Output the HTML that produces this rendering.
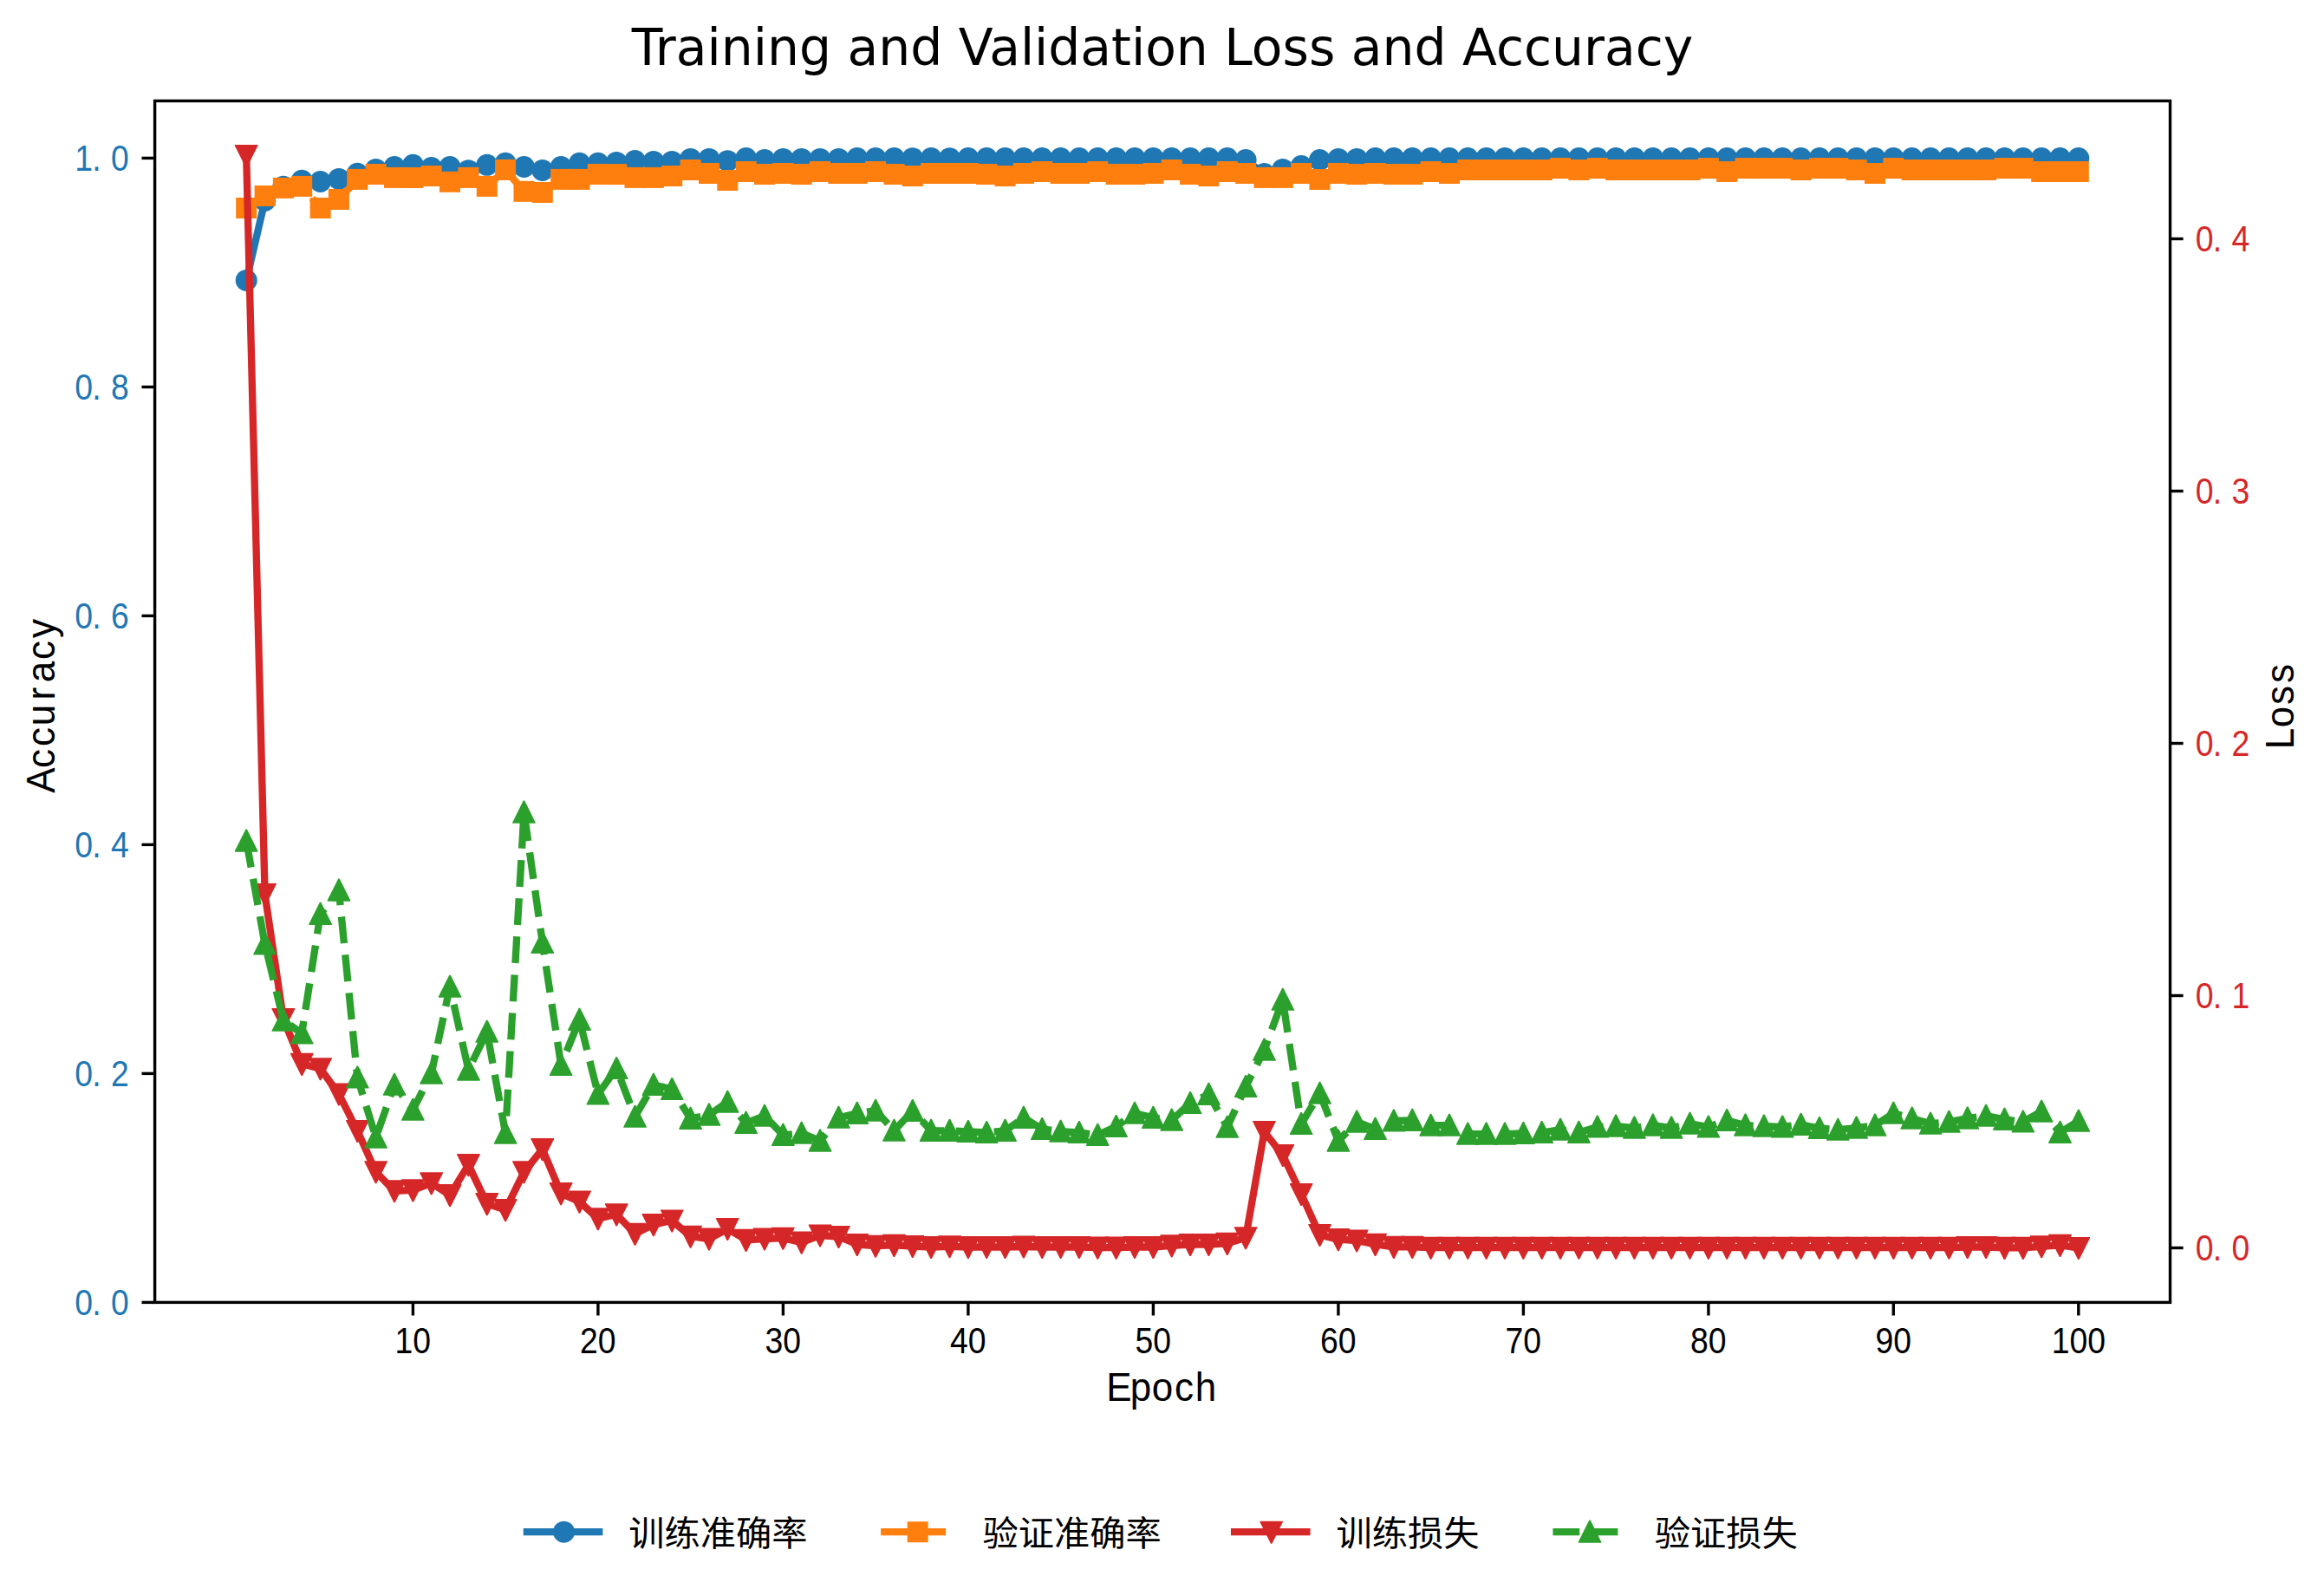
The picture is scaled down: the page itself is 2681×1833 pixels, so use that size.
<!DOCTYPE html>
<html lang="zh"><head><meta charset="utf-8"><title>Training and Validation Loss and Accuracy</title>
<style>html,body{margin:0;padding:0;background:#fff}body{width:2681px;height:1833px;overflow:hidden}svg{display:block}.t{font-family:"DejaVu Sans","Liberation Sans",sans-serif}.n{font-family:"Liberation Sans","Noto Sans CJK SC",sans-serif}.c{font-family:"Liberation Sans","Noto Sans CJK SC","WenQuanYi Zen Hei",sans-serif}</style></head><body>
<svg width="2681" height="1833" viewBox="0 0 2681 1833">
<rect width="2681" height="1833" fill="#fff"/>
<text class="t" x="1341.1" y="74.7" font-size="58.33" text-anchor="middle" fill="#000">Training and Validation Loss and Accuracy</text>
<g fill="none" stroke-width="8.33" stroke-linejoin="round">
<polyline points="284.2,323.4 305.6,231.5 326.9,215.2 348.2,208.3 369.6,209.5 390.9,206.4 412.3,200.3 433.6,195.4 455,192.5 476.4,190.3 497.7,193.5 519,192.5 540.4,196.7 561.8,190.3 583.1,188.3 604.5,192.5 625.8,196.5 647.2,192.5 668.5,188.3 689.9,188.3 711.2,187.4 732.5,185.5 753.9,186.4 775.2,186.4 796.6,183.4 818,183.4 839.3,185.7 860.7,182.5 882,184.5 903.4,183.4 924.7,183.4 946,183.4 967.4,183.4 988.8,182.5 1010.1,182.5 1031.5,182.5 1052.8,182.7 1074.2,182.5 1095.5,182.7 1116.9,182.5 1138.2,182.5 1159.5,182.5 1180.9,182.5 1202.2,182.5 1223.6,182.5 1245,182.5 1266.3,182.5 1287.7,182.5 1309,182.5 1330.4,182.5 1351.7,182.5 1373.1,182.5 1394.4,182.5 1415.8,182.5 1437.1,184.5 1458.5,200.6 1479.8,195.4 1501.2,191.6 1522.5,184.5 1543.9,183.4 1565.2,183.4 1586.6,182.5 1607.9,182.5 1629.3,182.5 1650.6,182.5 1672,182.5 1693.3,182.5 1714.7,182.5 1736,182.5 1757.4,182.5 1778.7,182.5 1800.1,182.5 1821.4,182.5 1842.8,182.5 1864.1,182.5 1885.5,182.5 1906.8,182.5 1928.2,182.5 1949.5,182.5 1970.9,182.5 1992.2,182.5 2013.6,182.5 2034.9,182.5 2056.2,182.5 2077.6,182.5 2099,182.5 2120.3,182.5 2141.7,182.5 2163,182.5 2184.3,182.5 2205.7,182.5 2227.1,182.5 2248.4,182.5 2269.8,182.5 2291.1,182.5 2312.5,182.5 2333.8,182.5 2355.2,182.5 2376.5,182.5 2397.8,182.5" stroke="#1f77b4" stroke-linecap="square"/>
</g>
<g fill="#1f77b4">
<circle cx="284.2" cy="323.4" r="12.5"/>
<circle cx="305.6" cy="231.5" r="12.5"/>
<circle cx="326.9" cy="215.2" r="12.5"/>
<circle cx="348.2" cy="208.3" r="12.5"/>
<circle cx="369.6" cy="209.5" r="12.5"/>
<circle cx="390.9" cy="206.4" r="12.5"/>
<circle cx="412.3" cy="200.3" r="12.5"/>
<circle cx="433.6" cy="195.4" r="12.5"/>
<circle cx="455" cy="192.5" r="12.5"/>
<circle cx="476.4" cy="190.3" r="12.5"/>
<circle cx="497.7" cy="193.5" r="12.5"/>
<circle cx="519" cy="192.5" r="12.5"/>
<circle cx="540.4" cy="196.7" r="12.5"/>
<circle cx="561.8" cy="190.3" r="12.5"/>
<circle cx="583.1" cy="188.3" r="12.5"/>
<circle cx="604.5" cy="192.5" r="12.5"/>
<circle cx="625.8" cy="196.5" r="12.5"/>
<circle cx="647.2" cy="192.5" r="12.5"/>
<circle cx="668.5" cy="188.3" r="12.5"/>
<circle cx="689.9" cy="188.3" r="12.5"/>
<circle cx="711.2" cy="187.4" r="12.5"/>
<circle cx="732.5" cy="185.5" r="12.5"/>
<circle cx="753.9" cy="186.4" r="12.5"/>
<circle cx="775.2" cy="186.4" r="12.5"/>
<circle cx="796.6" cy="183.4" r="12.5"/>
<circle cx="818" cy="183.4" r="12.5"/>
<circle cx="839.3" cy="185.7" r="12.5"/>
<circle cx="860.7" cy="182.5" r="12.5"/>
<circle cx="882" cy="184.5" r="12.5"/>
<circle cx="903.4" cy="183.4" r="12.5"/>
<circle cx="924.7" cy="183.4" r="12.5"/>
<circle cx="946" cy="183.4" r="12.5"/>
<circle cx="967.4" cy="183.4" r="12.5"/>
<circle cx="988.8" cy="182.5" r="12.5"/>
<circle cx="1010.1" cy="182.5" r="12.5"/>
<circle cx="1031.5" cy="182.5" r="12.5"/>
<circle cx="1052.8" cy="182.7" r="12.5"/>
<circle cx="1074.2" cy="182.5" r="12.5"/>
<circle cx="1095.5" cy="182.7" r="12.5"/>
<circle cx="1116.9" cy="182.5" r="12.5"/>
<circle cx="1138.2" cy="182.5" r="12.5"/>
<circle cx="1159.5" cy="182.5" r="12.5"/>
<circle cx="1180.9" cy="182.5" r="12.5"/>
<circle cx="1202.2" cy="182.5" r="12.5"/>
<circle cx="1223.6" cy="182.5" r="12.5"/>
<circle cx="1245" cy="182.5" r="12.5"/>
<circle cx="1266.3" cy="182.5" r="12.5"/>
<circle cx="1287.7" cy="182.5" r="12.5"/>
<circle cx="1309" cy="182.5" r="12.5"/>
<circle cx="1330.4" cy="182.5" r="12.5"/>
<circle cx="1351.7" cy="182.5" r="12.5"/>
<circle cx="1373.1" cy="182.5" r="12.5"/>
<circle cx="1394.4" cy="182.5" r="12.5"/>
<circle cx="1415.8" cy="182.5" r="12.5"/>
<circle cx="1437.1" cy="184.5" r="12.5"/>
<circle cx="1458.5" cy="200.6" r="12.5"/>
<circle cx="1479.8" cy="195.4" r="12.5"/>
<circle cx="1501.2" cy="191.6" r="12.5"/>
<circle cx="1522.5" cy="184.5" r="12.5"/>
<circle cx="1543.9" cy="183.4" r="12.5"/>
<circle cx="1565.2" cy="183.4" r="12.5"/>
<circle cx="1586.6" cy="182.5" r="12.5"/>
<circle cx="1607.9" cy="182.5" r="12.5"/>
<circle cx="1629.3" cy="182.5" r="12.5"/>
<circle cx="1650.6" cy="182.5" r="12.5"/>
<circle cx="1672" cy="182.5" r="12.5"/>
<circle cx="1693.3" cy="182.5" r="12.5"/>
<circle cx="1714.7" cy="182.5" r="12.5"/>
<circle cx="1736" cy="182.5" r="12.5"/>
<circle cx="1757.4" cy="182.5" r="12.5"/>
<circle cx="1778.7" cy="182.5" r="12.5"/>
<circle cx="1800.1" cy="182.5" r="12.5"/>
<circle cx="1821.4" cy="182.5" r="12.5"/>
<circle cx="1842.8" cy="182.5" r="12.5"/>
<circle cx="1864.1" cy="182.5" r="12.5"/>
<circle cx="1885.5" cy="182.5" r="12.5"/>
<circle cx="1906.8" cy="182.5" r="12.5"/>
<circle cx="1928.2" cy="182.5" r="12.5"/>
<circle cx="1949.5" cy="182.5" r="12.5"/>
<circle cx="1970.9" cy="182.5" r="12.5"/>
<circle cx="1992.2" cy="182.5" r="12.5"/>
<circle cx="2013.6" cy="182.5" r="12.5"/>
<circle cx="2034.9" cy="182.5" r="12.5"/>
<circle cx="2056.2" cy="182.5" r="12.5"/>
<circle cx="2077.6" cy="182.5" r="12.5"/>
<circle cx="2099" cy="182.5" r="12.5"/>
<circle cx="2120.3" cy="182.5" r="12.5"/>
<circle cx="2141.7" cy="182.5" r="12.5"/>
<circle cx="2163" cy="182.5" r="12.5"/>
<circle cx="2184.3" cy="182.5" r="12.5"/>
<circle cx="2205.7" cy="182.5" r="12.5"/>
<circle cx="2227.1" cy="182.5" r="12.5"/>
<circle cx="2248.4" cy="182.5" r="12.5"/>
<circle cx="2269.8" cy="182.5" r="12.5"/>
<circle cx="2291.1" cy="182.5" r="12.5"/>
<circle cx="2312.5" cy="182.5" r="12.5"/>
<circle cx="2333.8" cy="182.5" r="12.5"/>
<circle cx="2355.2" cy="182.5" r="12.5"/>
<circle cx="2376.5" cy="182.5" r="12.5"/>
<circle cx="2397.8" cy="182.5" r="12.5"/>
</g>
<polyline points="284.2,240 305.6,226 326.9,216.9 348.2,214.9 369.6,240 390.9,230 412.3,206.9 433.6,201 455,204.9 476.4,205 497.7,203 519,209.8 540.4,204.9 561.8,214.9 583.1,195.9 604.5,220.8 625.8,222 647.2,206.9 668.5,206.9 689.9,201 711.2,201.1 732.5,204.9 753.9,204.9 775.2,203 796.6,196 818,200 839.3,208 860.7,198 882,201 903.4,200 924.7,201 946,198 967.4,200 988.8,200 1010.1,198 1031.5,201 1052.8,203 1074.2,200 1095.5,200 1116.9,200 1138.2,201 1159.5,203 1180.9,200 1202.2,198 1223.6,200 1245,200 1266.3,198 1287.7,201 1309,201 1330.4,200 1351.7,196 1373.1,201 1394.4,203 1415.8,198 1437.1,200 1458.5,204.9 1479.8,204.9 1501.2,200 1522.5,207 1543.9,200 1565.2,201 1586.6,200 1607.9,201 1629.3,201 1650.6,198 1672,200 1693.3,196 1714.7,196 1736,196 1757.4,196 1778.7,196 1800.1,194.1 1821.4,196 1842.8,194.1 1864.1,196 1885.5,196 1906.8,196 1928.2,196 1949.5,196 1970.9,194.1 1992.2,198 2013.6,194.1 2034.9,194.1 2056.2,194.1 2077.6,196 2099,194.1 2120.3,194.1 2141.7,196 2163,200 2184.3,194.1 2205.7,196 2227.1,196 2248.4,196 2269.8,196 2291.1,196 2312.5,194.1 2333.8,194.1 2355.2,198 2376.5,198 2397.8,198" fill="none" stroke="#ff7f0e" stroke-width="8.33" stroke-linejoin="round" stroke-dasharray="30.83 13.33"/>
<g fill="#ff7f0e">
<rect x="272.2" y="228" width="24" height="24"/>
<rect x="293.6" y="214" width="24" height="24"/>
<rect x="314.9" y="204.9" width="24" height="24"/>
<rect x="336.2" y="202.9" width="24" height="24"/>
<rect x="357.6" y="228" width="24" height="24"/>
<rect x="378.9" y="218" width="24" height="24"/>
<rect x="400.3" y="194.9" width="24" height="24"/>
<rect x="421.6" y="189" width="24" height="24"/>
<rect x="443" y="192.9" width="24" height="24"/>
<rect x="464.4" y="193" width="24" height="24"/>
<rect x="485.7" y="191" width="24" height="24"/>
<rect x="507" y="197.8" width="24" height="24"/>
<rect x="528.4" y="192.9" width="24" height="24"/>
<rect x="549.8" y="202.9" width="24" height="24"/>
<rect x="571.1" y="183.9" width="24" height="24"/>
<rect x="592.5" y="208.8" width="24" height="24"/>
<rect x="613.8" y="210" width="24" height="24"/>
<rect x="635.2" y="194.9" width="24" height="24"/>
<rect x="656.5" y="194.9" width="24" height="24"/>
<rect x="677.9" y="189" width="24" height="24"/>
<rect x="699.2" y="189.1" width="24" height="24"/>
<rect x="720.5" y="192.9" width="24" height="24"/>
<rect x="741.9" y="192.9" width="24" height="24"/>
<rect x="763.2" y="191" width="24" height="24"/>
<rect x="784.6" y="184" width="24" height="24"/>
<rect x="806" y="188" width="24" height="24"/>
<rect x="827.3" y="196" width="24" height="24"/>
<rect x="848.7" y="186" width="24" height="24"/>
<rect x="870" y="189" width="24" height="24"/>
<rect x="891.4" y="188" width="24" height="24"/>
<rect x="912.7" y="189" width="24" height="24"/>
<rect x="934" y="186" width="24" height="24"/>
<rect x="955.4" y="188" width="24" height="24"/>
<rect x="976.8" y="188" width="24" height="24"/>
<rect x="998.1" y="186" width="24" height="24"/>
<rect x="1019.5" y="189" width="24" height="24"/>
<rect x="1040.8" y="191" width="24" height="24"/>
<rect x="1062.2" y="188" width="24" height="24"/>
<rect x="1083.5" y="188" width="24" height="24"/>
<rect x="1104.9" y="188" width="24" height="24"/>
<rect x="1126.2" y="189" width="24" height="24"/>
<rect x="1147.5" y="191" width="24" height="24"/>
<rect x="1168.9" y="188" width="24" height="24"/>
<rect x="1190.2" y="186" width="24" height="24"/>
<rect x="1211.6" y="188" width="24" height="24"/>
<rect x="1233" y="188" width="24" height="24"/>
<rect x="1254.3" y="186" width="24" height="24"/>
<rect x="1275.7" y="189" width="24" height="24"/>
<rect x="1297" y="189" width="24" height="24"/>
<rect x="1318.4" y="188" width="24" height="24"/>
<rect x="1339.7" y="184" width="24" height="24"/>
<rect x="1361.1" y="189" width="24" height="24"/>
<rect x="1382.4" y="191" width="24" height="24"/>
<rect x="1403.8" y="186" width="24" height="24"/>
<rect x="1425.1" y="188" width="24" height="24"/>
<rect x="1446.5" y="192.9" width="24" height="24"/>
<rect x="1467.8" y="192.9" width="24" height="24"/>
<rect x="1489.2" y="188" width="24" height="24"/>
<rect x="1510.5" y="195" width="24" height="24"/>
<rect x="1531.9" y="188" width="24" height="24"/>
<rect x="1553.2" y="189" width="24" height="24"/>
<rect x="1574.6" y="188" width="24" height="24"/>
<rect x="1595.9" y="189" width="24" height="24"/>
<rect x="1617.3" y="189" width="24" height="24"/>
<rect x="1638.6" y="186" width="24" height="24"/>
<rect x="1660" y="188" width="24" height="24"/>
<rect x="1681.3" y="184" width="24" height="24"/>
<rect x="1702.7" y="184" width="24" height="24"/>
<rect x="1724" y="184" width="24" height="24"/>
<rect x="1745.4" y="184" width="24" height="24"/>
<rect x="1766.7" y="184" width="24" height="24"/>
<rect x="1788.1" y="182.1" width="24" height="24"/>
<rect x="1809.4" y="184" width="24" height="24"/>
<rect x="1830.8" y="182.1" width="24" height="24"/>
<rect x="1852.1" y="184" width="24" height="24"/>
<rect x="1873.5" y="184" width="24" height="24"/>
<rect x="1894.8" y="184" width="24" height="24"/>
<rect x="1916.2" y="184" width="24" height="24"/>
<rect x="1937.5" y="184" width="24" height="24"/>
<rect x="1958.9" y="182.1" width="24" height="24"/>
<rect x="1980.2" y="186" width="24" height="24"/>
<rect x="2001.6" y="182.1" width="24" height="24"/>
<rect x="2022.9" y="182.1" width="24" height="24"/>
<rect x="2044.2" y="182.1" width="24" height="24"/>
<rect x="2065.6" y="184" width="24" height="24"/>
<rect x="2087" y="182.1" width="24" height="24"/>
<rect x="2108.3" y="182.1" width="24" height="24"/>
<rect x="2129.7" y="184" width="24" height="24"/>
<rect x="2151" y="188" width="24" height="24"/>
<rect x="2172.3" y="182.1" width="24" height="24"/>
<rect x="2193.7" y="184" width="24" height="24"/>
<rect x="2215.1" y="184" width="24" height="24"/>
<rect x="2236.4" y="184" width="24" height="24"/>
<rect x="2257.8" y="184" width="24" height="24"/>
<rect x="2279.1" y="184" width="24" height="24"/>
<rect x="2300.5" y="182.1" width="24" height="24"/>
<rect x="2321.8" y="182.1" width="24" height="24"/>
<rect x="2343.2" y="186" width="24" height="24"/>
<rect x="2364.5" y="186" width="24" height="24"/>
<rect x="2385.8" y="186" width="24" height="24"/>
</g>
<polyline points="284.2,179.6 305.6,1031.5 326.9,1175.6 348.2,1227.3 369.6,1232.8 390.9,1262 412.3,1304.5 433.6,1351.8 455,1373.8 476.4,1372.8 497.7,1364.8 519,1378.6 540.4,1343.6 561.8,1388.6 583.1,1395.6 604.5,1351.8 625.8,1325.6 647.2,1376.6 668.5,1386.1 689.9,1405.8 711.2,1400.8 732.5,1423.2 753.9,1412.6 775.2,1408 796.6,1426.2 818,1429 839.3,1417.5 860.7,1430.3 882,1429 903.4,1428.2 924.7,1433.1 946,1425 967.4,1426.5 988.8,1435.5 1010.1,1437.2 1031.5,1436.3 1052.8,1437.5 1074.2,1438.5 1095.5,1437.8 1116.9,1438.5 1138.2,1438.5 1159.5,1438.5 1180.9,1438 1202.2,1438.5 1223.6,1438.5 1245,1438.5 1266.3,1439.1 1287.7,1439.1 1309,1438.5 1330.4,1438.5 1351.7,1436.8 1373.1,1435.5 1394.4,1435.5 1415.8,1434.3 1437.1,1427.8 1458.5,1305.5 1479.8,1332.5 1501.2,1377.5 1522.5,1424.5 1543.9,1429.6 1565.2,1431 1586.6,1435.3 1607.9,1438.3 1629.3,1438.3 1650.6,1439.2 1672,1439.2 1693.3,1439.2 1714.7,1439.2 1736,1439.2 1757.4,1439.2 1778.7,1439.2 1800.1,1439.2 1821.4,1439.2 1842.8,1439.2 1864.1,1439.2 1885.5,1439.2 1906.8,1439.2 1928.2,1439.2 1949.5,1439.2 1970.9,1439.2 1992.2,1439.2 2013.6,1439.2 2034.9,1439.2 2056.2,1439.2 2077.6,1439.2 2099,1439.2 2120.3,1439.2 2141.7,1439.2 2163,1439.2 2184.3,1439.2 2205.7,1439.2 2227.1,1439.2 2248.4,1439.2 2269.8,1438.5 2291.1,1438.5 2312.5,1439.3 2333.8,1439.3 2355.2,1437.8 2376.5,1436.3 2397.8,1439.5" fill="none" stroke="#d62728" stroke-width="8.33" stroke-linejoin="round" stroke-linecap="square"/>
<g fill="#d62728">
<polygon points="270.9,167.1 297.4,167.1 297.4,168.2 284.9,193.2 283.5,193.2 270.9,168.2"/>
<polygon points="292.3,1019 318.8,1019 318.8,1020 306.3,1045 304.8,1045 292.3,1020"/>
<polygon points="313.6,1163.1 340.1,1163.1 340.1,1164.2 327.6,1189.2 326.2,1189.2 313.6,1164.2"/>
<polygon points="335,1214.8 361.5,1214.8 361.5,1215.9 349,1240.9 347.5,1240.9 335,1215.9"/>
<polygon points="356.4,1220.2 382.9,1220.2 382.9,1221.3 370.3,1246.3 368.9,1246.3 356.4,1221.3"/>
<polygon points="377.7,1249.5 404.2,1249.5 404.2,1250.5 391.7,1275.5 390.2,1275.5 377.7,1250.5"/>
<polygon points="399.1,1292 425.6,1292 425.6,1293.1 413,1318.1 411.6,1318.1 399.1,1293.1"/>
<polygon points="420.4,1339.2 446.9,1339.2 446.9,1340.3 434.4,1365.3 432.9,1365.3 420.4,1340.3"/>
<polygon points="441.8,1361.2 468.2,1361.2 468.2,1362.3 455.7,1387.3 454.3,1387.3 441.8,1362.3"/>
<polygon points="463.1,1360.3 489.6,1360.3 489.6,1361.4 477.1,1386.4 475.6,1386.4 463.1,1361.4"/>
<polygon points="484.4,1352.3 510.9,1352.3 510.9,1353.4 498.4,1378.4 497,1378.4 484.4,1353.4"/>
<polygon points="505.8,1366.1 532.3,1366.1 532.3,1367.2 519.8,1392.2 518.3,1392.2 505.8,1367.2"/>
<polygon points="527.2,1331.1 553.7,1331.1 553.7,1332.2 541.1,1357.2 539.7,1357.2 527.2,1332.2"/>
<polygon points="548.5,1376.1 575,1376.1 575,1377.2 562.5,1402.2 561,1402.2 548.5,1377.2"/>
<polygon points="569.9,1383.1 596.4,1383.1 596.4,1384.2 583.8,1409.2 582.4,1409.2 569.9,1384.2"/>
<polygon points="591.2,1339.2 617.7,1339.2 617.7,1340.3 605.2,1365.3 603.7,1365.3 591.2,1340.3"/>
<polygon points="612.5,1313.1 639,1313.1 639,1314.2 626.5,1339.2 625.1,1339.2 612.5,1314.2"/>
<polygon points="633.9,1364.1 660.4,1364.1 660.4,1365.2 647.9,1390.2 646.4,1390.2 633.9,1365.2"/>
<polygon points="655.2,1373.6 681.8,1373.6 681.8,1374.7 669.2,1399.7 667.8,1399.7 655.2,1374.7"/>
<polygon points="676.6,1393.2 703.1,1393.2 703.1,1394.3 690.6,1419.3 689.1,1419.3 676.6,1394.3"/>
<polygon points="698,1388.3 724.5,1388.3 724.5,1389.4 711.9,1414.4 710.5,1414.4 698,1389.4"/>
<polygon points="719.3,1410.8 745.8,1410.8 745.8,1411.8 733.3,1436.8 731.8,1436.8 719.3,1411.8"/>
<polygon points="740.7,1400.1 767.2,1400.1 767.2,1401.2 754.6,1426.2 753.2,1426.2 740.7,1401.2"/>
<polygon points="762,1395.5 788.5,1395.5 788.5,1396.5 776,1421.5 774.5,1421.5 762,1396.5"/>
<polygon points="783.4,1413.8 809.9,1413.8 809.9,1414.8 797.3,1439.8 795.9,1439.8 783.4,1414.8"/>
<polygon points="804.7,1416.5 831.2,1416.5 831.2,1417.6 818.7,1442.6 817.2,1442.6 804.7,1417.6"/>
<polygon points="826,1405 852.5,1405 852.5,1406.1 840,1431.1 838.6,1431.1 826,1406.1"/>
<polygon points="847.4,1417.8 873.9,1417.8 873.9,1418.9 861.4,1443.9 859.9,1443.9 847.4,1418.9"/>
<polygon points="868.8,1416.5 895.2,1416.5 895.2,1417.6 882.7,1442.6 881.3,1442.6 868.8,1417.6"/>
<polygon points="890.1,1415.8 916.6,1415.8 916.6,1416.8 904.1,1441.8 902.6,1441.8 890.1,1416.8"/>
<polygon points="911.5,1420.6 938,1420.6 938,1421.7 925.4,1446.7 924,1446.7 911.5,1421.7"/>
<polygon points="932.8,1412.5 959.3,1412.5 959.3,1413.5 946.8,1438.5 945.3,1438.5 932.8,1413.5"/>
<polygon points="954.2,1414 980.7,1414 980.7,1415.1 968.1,1440.1 966.7,1440.1 954.2,1415.1"/>
<polygon points="975.5,1423 1002,1423 1002,1424.1 989.5,1449.1 988,1449.1 975.5,1424.1"/>
<polygon points="996.9,1424.8 1023.4,1424.8 1023.4,1425.8 1010.8,1450.8 1009.4,1450.8 996.9,1425.8"/>
<polygon points="1018.2,1423.8 1044.7,1423.8 1044.7,1424.9 1032.2,1449.9 1030.7,1449.9 1018.2,1424.9"/>
<polygon points="1039.5,1425 1066,1425 1066,1426.1 1053.5,1451.1 1052.1,1451.1 1039.5,1426.1"/>
<polygon points="1060.9,1426 1087.4,1426 1087.4,1427.1 1074.9,1452.1 1073.4,1452.1 1060.9,1427.1"/>
<polygon points="1082.2,1425.2 1108.8,1425.2 1108.8,1426.3 1096.2,1451.3 1094.8,1451.3 1082.2,1426.3"/>
<polygon points="1103.6,1426 1130.1,1426 1130.1,1427.1 1117.6,1452.1 1116.1,1452.1 1103.6,1427.1"/>
<polygon points="1125,1426 1151.5,1426 1151.5,1427.1 1138.9,1452.1 1137.5,1452.1 1125,1427.1"/>
<polygon points="1146.3,1426 1172.8,1426 1172.8,1427.1 1160.3,1452.1 1158.8,1452.1 1146.3,1427.1"/>
<polygon points="1167.7,1425.5 1194.2,1425.5 1194.2,1426.6 1181.6,1451.6 1180.2,1451.6 1167.7,1426.6"/>
<polygon points="1189,1426 1215.5,1426 1215.5,1427.1 1203,1452.1 1201.5,1452.1 1189,1427.1"/>
<polygon points="1210.4,1426 1236.9,1426 1236.9,1427.1 1224.3,1452.1 1222.9,1452.1 1210.4,1427.1"/>
<polygon points="1231.7,1426 1258.2,1426 1258.2,1427.1 1245.7,1452.1 1244.2,1452.1 1231.7,1427.1"/>
<polygon points="1253,1426.6 1279.5,1426.6 1279.5,1427.7 1267,1452.7 1265.6,1452.7 1253,1427.7"/>
<polygon points="1274.4,1426.6 1300.9,1426.6 1300.9,1427.7 1288.4,1452.7 1286.9,1452.7 1274.4,1427.7"/>
<polygon points="1295.8,1426 1322.3,1426 1322.3,1427.1 1309.7,1452.1 1308.3,1452.1 1295.8,1427.1"/>
<polygon points="1317.1,1426 1343.6,1426 1343.6,1427.1 1331.1,1452.1 1329.6,1452.1 1317.1,1427.1"/>
<polygon points="1338.5,1424.3 1365,1424.3 1365,1425.4 1352.4,1450.4 1351,1450.4 1338.5,1425.4"/>
<polygon points="1359.8,1423 1386.3,1423 1386.3,1424.1 1373.8,1449.1 1372.3,1449.1 1359.8,1424.1"/>
<polygon points="1381.2,1423 1407.7,1423 1407.7,1424.1 1395.1,1449.1 1393.7,1449.1 1381.2,1424.1"/>
<polygon points="1402.5,1421.8 1429,1421.8 1429,1422.9 1416.5,1447.9 1415,1447.9 1402.5,1422.9"/>
<polygon points="1423.9,1415.2 1450.4,1415.2 1450.4,1416.3 1437.8,1441.3 1436.4,1441.3 1423.9,1416.3"/>
<polygon points="1445.2,1293 1471.7,1293 1471.7,1294.1 1459.2,1319.1 1457.7,1319.1 1445.2,1294.1"/>
<polygon points="1466.6,1320 1493.1,1320 1493.1,1321.1 1480.5,1346.1 1479.1,1346.1 1466.6,1321.1"/>
<polygon points="1487.9,1365 1514.4,1365 1514.4,1366 1501.9,1391 1500.4,1391 1487.9,1366"/>
<polygon points="1509.3,1412 1535.8,1412 1535.8,1413 1523.2,1438 1521.8,1438 1509.3,1413"/>
<polygon points="1530.6,1417.1 1557.1,1417.1 1557.1,1418.2 1544.6,1443.2 1543.1,1443.2 1530.6,1418.2"/>
<polygon points="1552,1418.5 1578.5,1418.5 1578.5,1419.5 1565.9,1444.5 1564.5,1444.5 1552,1419.5"/>
<polygon points="1573.3,1422.8 1599.8,1422.8 1599.8,1423.9 1587.3,1448.9 1585.8,1448.9 1573.3,1423.9"/>
<polygon points="1594.7,1425.8 1621.2,1425.8 1621.2,1426.9 1608.6,1451.9 1607.2,1451.9 1594.7,1426.9"/>
<polygon points="1616,1425.8 1642.5,1425.8 1642.5,1426.9 1630,1451.9 1628.5,1451.9 1616,1426.9"/>
<polygon points="1637.4,1426.8 1663.9,1426.8 1663.9,1427.8 1651.3,1452.8 1649.9,1452.8 1637.4,1427.8"/>
<polygon points="1658.7,1426.8 1685.2,1426.8 1685.2,1427.8 1672.7,1452.8 1671.2,1452.8 1658.7,1427.8"/>
<polygon points="1680.1,1426.8 1706.6,1426.8 1706.6,1427.8 1694,1452.8 1692.6,1452.8 1680.1,1427.8"/>
<polygon points="1701.4,1426.8 1727.9,1426.8 1727.9,1427.8 1715.4,1452.8 1713.9,1452.8 1701.4,1427.8"/>
<polygon points="1722.8,1426.8 1749.3,1426.8 1749.3,1427.8 1736.7,1452.8 1735.3,1452.8 1722.8,1427.8"/>
<polygon points="1744.1,1426.8 1770.6,1426.8 1770.6,1427.8 1758.1,1452.8 1756.6,1452.8 1744.1,1427.8"/>
<polygon points="1765.5,1426.8 1792,1426.8 1792,1427.8 1779.4,1452.8 1778,1452.8 1765.5,1427.8"/>
<polygon points="1786.8,1426.8 1813.3,1426.8 1813.3,1427.8 1800.8,1452.8 1799.3,1452.8 1786.8,1427.8"/>
<polygon points="1808.2,1426.8 1834.7,1426.8 1834.7,1427.8 1822.1,1452.8 1820.7,1452.8 1808.2,1427.8"/>
<polygon points="1829.5,1426.8 1856,1426.8 1856,1427.8 1843.5,1452.8 1842,1452.8 1829.5,1427.8"/>
<polygon points="1850.9,1426.8 1877.4,1426.8 1877.4,1427.8 1864.8,1452.8 1863.4,1452.8 1850.9,1427.8"/>
<polygon points="1872.2,1426.8 1898.7,1426.8 1898.7,1427.8 1886.2,1452.8 1884.7,1452.8 1872.2,1427.8"/>
<polygon points="1893.6,1426.8 1920.1,1426.8 1920.1,1427.8 1907.5,1452.8 1906.1,1452.8 1893.6,1427.8"/>
<polygon points="1914.9,1426.8 1941.4,1426.8 1941.4,1427.8 1928.9,1452.8 1927.4,1452.8 1914.9,1427.8"/>
<polygon points="1936.3,1426.8 1962.8,1426.8 1962.8,1427.8 1950.2,1452.8 1948.8,1452.8 1936.3,1427.8"/>
<polygon points="1957.6,1426.8 1984.1,1426.8 1984.1,1427.8 1971.6,1452.8 1970.1,1452.8 1957.6,1427.8"/>
<polygon points="1979,1426.8 2005.5,1426.8 2005.5,1427.8 1992.9,1452.8 1991.5,1452.8 1979,1427.8"/>
<polygon points="2000.3,1426.8 2026.8,1426.8 2026.8,1427.8 2014.3,1452.8 2012.8,1452.8 2000.3,1427.8"/>
<polygon points="2021.7,1426.8 2048.2,1426.8 2048.2,1427.8 2035.6,1452.8 2034.2,1452.8 2021.7,1427.8"/>
<polygon points="2043,1426.8 2069.5,1426.8 2069.5,1427.8 2057,1452.8 2055.5,1452.8 2043,1427.8"/>
<polygon points="2064.3,1426.8 2090.8,1426.8 2090.8,1427.8 2078.3,1452.8 2076.9,1452.8 2064.3,1427.8"/>
<polygon points="2085.7,1426.8 2112.2,1426.8 2112.2,1427.8 2099.7,1452.8 2098.2,1452.8 2085.7,1427.8"/>
<polygon points="2107.1,1426.8 2133.6,1426.8 2133.6,1427.8 2121,1452.8 2119.6,1452.8 2107.1,1427.8"/>
<polygon points="2128.4,1426.8 2154.9,1426.8 2154.9,1427.8 2142.4,1452.8 2140.9,1452.8 2128.4,1427.8"/>
<polygon points="2149.8,1426.8 2176.2,1426.8 2176.2,1427.8 2163.7,1452.8 2162.3,1452.8 2149.8,1427.8"/>
<polygon points="2171.1,1426.8 2197.6,1426.8 2197.6,1427.8 2185.1,1452.8 2183.6,1452.8 2171.1,1427.8"/>
<polygon points="2192.5,1426.8 2219,1426.8 2219,1427.8 2206.4,1452.8 2205,1452.8 2192.5,1427.8"/>
<polygon points="2213.8,1426.8 2240.3,1426.8 2240.3,1427.8 2227.8,1452.8 2226.3,1452.8 2213.8,1427.8"/>
<polygon points="2235.2,1426.8 2261.7,1426.8 2261.7,1427.8 2249.1,1452.8 2247.7,1452.8 2235.2,1427.8"/>
<polygon points="2256.5,1426 2283,1426 2283,1427.1 2270.5,1452.1 2269,1452.1 2256.5,1427.1"/>
<polygon points="2277.8,1426 2304.3,1426 2304.3,1427.1 2291.8,1452.1 2290.4,1452.1 2277.8,1427.1"/>
<polygon points="2299.2,1426.8 2325.7,1426.8 2325.7,1427.9 2313.2,1452.9 2311.7,1452.9 2299.2,1427.9"/>
<polygon points="2320.6,1426.8 2347.1,1426.8 2347.1,1427.9 2334.5,1452.9 2333.1,1452.9 2320.6,1427.9"/>
<polygon points="2341.9,1425.2 2368.4,1425.2 2368.4,1426.3 2355.9,1451.3 2354.4,1451.3 2341.9,1426.3"/>
<polygon points="2363.2,1423.8 2389.8,1423.8 2389.8,1424.9 2377.2,1449.9 2375.8,1449.9 2363.2,1424.9"/>
<polygon points="2384.6,1427 2411.1,1427 2411.1,1428.1 2398.6,1453.1 2397.1,1453.1 2384.6,1428.1"/>
</g>
<polyline points="284.2,970.2 305.6,1089 326.9,1177.2 348.2,1192 369.6,1054.4 390.9,1027.2 412.3,1243 433.6,1312.2 455,1251.2 476.4,1280.2 497.7,1238.2 519,1138.2 540.4,1234.2 561.8,1190.2 583.1,1307.2 604.5,937.2 625.8,1087.4 647.2,1228.5 668.5,1176.4 689.9,1262 711.2,1232.5 732.5,1288.2 753.9,1251.4 775.2,1256.5 796.6,1290.4 818,1286.2 839.3,1271.2 860.7,1295.4 882,1287.2 903.4,1309.4 924.7,1307.2 946,1316.2 967.4,1289.2 988.8,1284.4 1010.1,1281.2 1031.5,1304.2 1052.8,1281.5 1074.2,1304.4 1095.5,1304.4 1116.9,1305.5 1138.2,1306.5 1159.5,1304.4 1180.9,1289.4 1202.2,1302.5 1223.6,1305.2 1245,1306.5 1266.3,1309.4 1287.7,1299.5 1309,1284.2 1330.4,1289.4 1351.7,1292.2 1373.1,1272.5 1394.4,1262.4 1415.8,1300.2 1437.1,1253.5 1458.5,1211.2 1479.8,1153.2 1501.2,1296.5 1522.5,1261.2 1543.9,1316.2 1565.2,1294.2 1586.6,1302.4 1607.9,1293 1629.3,1292.4 1650.6,1298.2 1672,1298.2 1693.3,1308.2 1714.7,1308.2 1736,1308.2 1757.4,1307.5 1778.7,1306.5 1800.1,1303.2 1821.4,1306.4 1842.8,1300 1864.1,1299.2 1885.5,1301.2 1906.8,1298.2 1928.2,1301.2 1949.5,1296.2 1970.9,1300 1992.2,1292.5 2013.6,1298.2 2034.9,1299.2 2056.2,1300 2077.6,1297.4 2099,1301.5 2120.3,1303.2 2141.7,1301.2 2163,1298.2 2184.3,1284.2 2205.7,1290.2 2227.1,1296.2 2248.4,1294.2 2269.8,1290.2 2291.1,1287.2 2312.5,1291.4 2333.8,1294 2355.2,1282.2 2376.5,1306.4 2397.8,1293.2" fill="none" stroke="#2ca02c" stroke-width="8.33" stroke-linejoin="round" stroke-dasharray="30.83 13.33"/>
<g fill="#2ca02c">
<polygon points="270.9,982.7 297.4,982.7 297.4,981.6 284.9,956.6 283.5,956.6 270.9,981.6"/>
<polygon points="292.3,1101.5 318.8,1101.5 318.8,1100.4 306.3,1075.4 304.8,1075.4 292.3,1100.4"/>
<polygon points="313.6,1189.8 340.1,1189.8 340.1,1188.7 327.6,1163.7 326.2,1163.7 313.6,1188.7"/>
<polygon points="335,1204.5 361.5,1204.5 361.5,1203.5 349,1178.5 347.5,1178.5 335,1203.5"/>
<polygon points="356.4,1066.9 382.9,1066.9 382.9,1065.8 370.3,1040.8 368.9,1040.8 356.4,1065.8"/>
<polygon points="377.7,1039.7 404.2,1039.7 404.2,1038.6 391.7,1013.6 390.2,1013.6 377.7,1038.6"/>
<polygon points="399.1,1255.5 425.6,1255.5 425.6,1254.5 413,1229.5 411.6,1229.5 399.1,1254.5"/>
<polygon points="420.4,1324.8 446.9,1324.8 446.9,1323.7 434.4,1298.7 432.9,1298.7 420.4,1323.7"/>
<polygon points="441.8,1263.8 468.2,1263.8 468.2,1262.7 455.7,1237.7 454.3,1237.7 441.8,1262.7"/>
<polygon points="463.1,1292.8 489.6,1292.8 489.6,1291.7 477.1,1266.7 475.6,1266.7 463.1,1291.7"/>
<polygon points="484.4,1250.7 510.9,1250.7 510.9,1249.6 498.4,1224.6 497,1224.6 484.4,1249.6"/>
<polygon points="505.8,1150.8 532.3,1150.8 532.3,1149.7 519.8,1124.7 518.3,1124.7 505.8,1149.7"/>
<polygon points="527.2,1246.7 553.7,1246.7 553.7,1245.6 541.1,1220.6 539.7,1220.6 527.2,1245.6"/>
<polygon points="548.5,1202.8 575,1202.8 575,1201.7 562.5,1176.7 561,1176.7 548.5,1201.7"/>
<polygon points="569.9,1319.8 596.4,1319.8 596.4,1318.7 583.8,1293.7 582.4,1293.7 569.9,1318.7"/>
<polygon points="591.2,949.8 617.7,949.8 617.7,948.7 605.2,923.6 603.7,923.6 591.2,948.7"/>
<polygon points="612.5,1099.9 639,1099.9 639,1098.8 626.5,1073.8 625.1,1073.8 612.5,1098.8"/>
<polygon points="633.9,1241 660.4,1241 660.4,1240 647.9,1215 646.4,1215 633.9,1240"/>
<polygon points="655.2,1188.9 681.8,1188.9 681.8,1187.8 669.2,1162.8 667.8,1162.8 655.2,1187.8"/>
<polygon points="676.6,1274.5 703.1,1274.5 703.1,1273.5 690.6,1248.5 689.1,1248.5 676.6,1273.5"/>
<polygon points="698,1245 724.5,1245 724.5,1243.9 711.9,1218.9 710.5,1218.9 698,1243.9"/>
<polygon points="719.3,1300.8 745.8,1300.8 745.8,1299.7 733.3,1274.7 731.8,1274.7 719.3,1299.7"/>
<polygon points="740.7,1263.9 767.2,1263.9 767.2,1262.8 754.6,1237.8 753.2,1237.8 740.7,1262.8"/>
<polygon points="762,1269 788.5,1269 788.5,1267.9 776,1242.9 774.5,1242.9 762,1267.9"/>
<polygon points="783.4,1302.9 809.9,1302.9 809.9,1301.8 797.3,1276.8 795.9,1276.8 783.4,1301.8"/>
<polygon points="804.7,1298.7 831.2,1298.7 831.2,1297.6 818.7,1272.6 817.2,1272.6 804.7,1297.6"/>
<polygon points="826,1283.8 852.5,1283.8 852.5,1282.7 840,1257.7 838.6,1257.7 826,1282.7"/>
<polygon points="847.4,1307.9 873.9,1307.9 873.9,1306.8 861.4,1281.8 859.9,1281.8 847.4,1306.8"/>
<polygon points="868.8,1299.8 895.2,1299.8 895.2,1298.7 882.7,1273.7 881.3,1273.7 868.8,1298.7"/>
<polygon points="890.1,1321.9 916.6,1321.9 916.6,1320.8 904.1,1295.8 902.6,1295.8 890.1,1320.8"/>
<polygon points="911.5,1319.8 938,1319.8 938,1318.7 925.4,1293.7 924,1293.7 911.5,1318.7"/>
<polygon points="932.8,1328.7 959.3,1328.7 959.3,1327.6 946.8,1302.6 945.3,1302.6 932.8,1327.6"/>
<polygon points="954.2,1301.8 980.7,1301.8 980.7,1300.7 968.1,1275.7 966.7,1275.7 954.2,1300.7"/>
<polygon points="975.5,1296.9 1002,1296.9 1002,1295.8 989.5,1270.8 988,1270.8 975.5,1295.8"/>
<polygon points="996.9,1293.8 1023.4,1293.8 1023.4,1292.7 1010.8,1267.7 1009.4,1267.7 996.9,1292.7"/>
<polygon points="1018.2,1316.8 1044.7,1316.8 1044.7,1315.7 1032.2,1290.7 1030.7,1290.7 1018.2,1315.7"/>
<polygon points="1039.5,1294 1066,1294 1066,1292.9 1053.5,1267.9 1052.1,1267.9 1039.5,1292.9"/>
<polygon points="1060.9,1316.9 1087.4,1316.9 1087.4,1315.8 1074.9,1290.8 1073.4,1290.8 1060.9,1315.8"/>
<polygon points="1082.2,1316.9 1108.8,1316.9 1108.8,1315.8 1096.2,1290.8 1094.8,1290.8 1082.2,1315.8"/>
<polygon points="1103.6,1318 1130.1,1318 1130.1,1317 1117.6,1292 1116.1,1292 1103.6,1317"/>
<polygon points="1125,1319 1151.5,1319 1151.5,1318 1138.9,1293 1137.5,1293 1125,1318"/>
<polygon points="1146.3,1316.9 1172.8,1316.9 1172.8,1315.8 1160.3,1290.8 1158.8,1290.8 1146.3,1315.8"/>
<polygon points="1167.7,1301.9 1194.2,1301.9 1194.2,1300.8 1181.6,1275.8 1180.2,1275.8 1167.7,1300.8"/>
<polygon points="1189,1315 1215.5,1315 1215.5,1313.9 1203,1288.9 1201.5,1288.9 1189,1313.9"/>
<polygon points="1210.4,1317.8 1236.9,1317.8 1236.9,1316.7 1224.3,1291.7 1222.9,1291.7 1210.4,1316.7"/>
<polygon points="1231.7,1319 1258.2,1319 1258.2,1318 1245.7,1293 1244.2,1293 1231.7,1318"/>
<polygon points="1253,1321.9 1279.5,1321.9 1279.5,1320.8 1267,1295.8 1265.6,1295.8 1253,1320.8"/>
<polygon points="1274.4,1312 1300.9,1312 1300.9,1310.9 1288.4,1285.9 1286.9,1285.9 1274.4,1310.9"/>
<polygon points="1295.8,1296.8 1322.3,1296.8 1322.3,1295.7 1309.7,1270.7 1308.3,1270.7 1295.8,1295.7"/>
<polygon points="1317.1,1301.9 1343.6,1301.9 1343.6,1300.8 1331.1,1275.8 1329.6,1275.8 1317.1,1300.8"/>
<polygon points="1338.5,1304.7 1365,1304.7 1365,1303.6 1352.4,1278.6 1351,1278.6 1338.5,1303.6"/>
<polygon points="1359.8,1285 1386.3,1285 1386.3,1283.9 1373.8,1258.9 1372.3,1258.9 1359.8,1283.9"/>
<polygon points="1381.2,1274.9 1407.7,1274.9 1407.7,1273.8 1395.1,1248.8 1393.7,1248.8 1381.2,1273.8"/>
<polygon points="1402.5,1312.8 1429,1312.8 1429,1311.7 1416.5,1286.7 1415,1286.7 1402.5,1311.7"/>
<polygon points="1423.9,1266 1450.4,1266 1450.4,1264.9 1437.8,1239.9 1436.4,1239.9 1423.9,1264.9"/>
<polygon points="1445.2,1223.7 1471.7,1223.7 1471.7,1222.6 1459.2,1197.6 1457.7,1197.6 1445.2,1222.6"/>
<polygon points="1466.6,1165.8 1493.1,1165.8 1493.1,1164.7 1480.5,1139.7 1479.1,1139.7 1466.6,1164.7"/>
<polygon points="1487.9,1309 1514.4,1309 1514.4,1308 1501.9,1283 1500.4,1283 1487.9,1308"/>
<polygon points="1509.3,1273.8 1535.8,1273.8 1535.8,1272.7 1523.2,1247.7 1521.8,1247.7 1509.3,1272.7"/>
<polygon points="1530.6,1328.7 1557.1,1328.7 1557.1,1327.6 1544.6,1302.6 1543.1,1302.6 1530.6,1327.6"/>
<polygon points="1552,1306.7 1578.5,1306.7 1578.5,1305.6 1565.9,1280.6 1564.5,1280.6 1552,1305.6"/>
<polygon points="1573.3,1314.9 1599.8,1314.9 1599.8,1313.8 1587.3,1288.8 1585.8,1288.8 1573.3,1313.8"/>
<polygon points="1594.7,1305.5 1621.2,1305.5 1621.2,1304.5 1608.6,1279.5 1607.2,1279.5 1594.7,1304.5"/>
<polygon points="1616,1304.9 1642.5,1304.9 1642.5,1303.8 1630,1278.8 1628.5,1278.8 1616,1303.8"/>
<polygon points="1637.4,1310.8 1663.9,1310.8 1663.9,1309.7 1651.3,1284.7 1649.9,1284.7 1637.4,1309.7"/>
<polygon points="1658.7,1310.8 1685.2,1310.8 1685.2,1309.7 1672.7,1284.7 1671.2,1284.7 1658.7,1309.7"/>
<polygon points="1680.1,1320.7 1706.6,1320.7 1706.6,1319.6 1694,1294.6 1692.6,1294.6 1680.1,1319.6"/>
<polygon points="1701.4,1320.7 1727.9,1320.7 1727.9,1319.6 1715.4,1294.6 1713.9,1294.6 1701.4,1319.6"/>
<polygon points="1722.8,1320.7 1749.3,1320.7 1749.3,1319.6 1736.7,1294.6 1735.3,1294.6 1722.8,1319.6"/>
<polygon points="1744.1,1320 1770.6,1320 1770.6,1319 1758.1,1294 1756.6,1294 1744.1,1319"/>
<polygon points="1765.5,1319 1792,1319 1792,1317.9 1779.4,1292.9 1778,1292.9 1765.5,1317.9"/>
<polygon points="1786.8,1315.8 1813.3,1315.8 1813.3,1314.7 1800.8,1289.7 1799.3,1289.7 1786.8,1314.7"/>
<polygon points="1808.2,1318.9 1834.7,1318.9 1834.7,1317.8 1822.1,1292.8 1820.7,1292.8 1808.2,1317.8"/>
<polygon points="1829.5,1312.5 1856,1312.5 1856,1311.4 1843.5,1286.4 1842,1286.4 1829.5,1311.4"/>
<polygon points="1850.9,1311.7 1877.4,1311.7 1877.4,1310.6 1864.8,1285.6 1863.4,1285.6 1850.9,1310.6"/>
<polygon points="1872.2,1313.7 1898.7,1313.7 1898.7,1312.6 1886.2,1287.6 1884.7,1287.6 1872.2,1312.6"/>
<polygon points="1893.6,1310.7 1920.1,1310.7 1920.1,1309.6 1907.5,1284.6 1906.1,1284.6 1893.6,1309.6"/>
<polygon points="1914.9,1313.7 1941.4,1313.7 1941.4,1312.6 1928.9,1287.6 1927.4,1287.6 1914.9,1312.6"/>
<polygon points="1936.3,1308.8 1962.8,1308.8 1962.8,1307.7 1950.2,1282.7 1948.8,1282.7 1936.3,1307.7"/>
<polygon points="1957.6,1312.5 1984.1,1312.5 1984.1,1311.4 1971.6,1286.4 1970.1,1286.4 1957.6,1311.4"/>
<polygon points="1979,1305 2005.5,1305 2005.5,1303.9 1992.9,1278.9 1991.5,1278.9 1979,1303.9"/>
<polygon points="2000.3,1310.7 2026.8,1310.7 2026.8,1309.6 2014.3,1284.6 2012.8,1284.6 2000.3,1309.6"/>
<polygon points="2021.7,1311.7 2048.2,1311.7 2048.2,1310.6 2035.6,1285.6 2034.2,1285.6 2021.7,1310.6"/>
<polygon points="2043,1312.5 2069.5,1312.5 2069.5,1311.4 2057,1286.4 2055.5,1286.4 2043,1311.4"/>
<polygon points="2064.3,1309.9 2090.8,1309.9 2090.8,1308.8 2078.3,1283.8 2076.9,1283.8 2064.3,1308.8"/>
<polygon points="2085.7,1314 2112.2,1314 2112.2,1312.9 2099.7,1287.9 2098.2,1287.9 2085.7,1312.9"/>
<polygon points="2107.1,1315.8 2133.6,1315.8 2133.6,1314.7 2121,1289.7 2119.6,1289.7 2107.1,1314.7"/>
<polygon points="2128.4,1313.7 2154.9,1313.7 2154.9,1312.6 2142.4,1287.6 2140.9,1287.6 2128.4,1312.6"/>
<polygon points="2149.8,1310.7 2176.2,1310.7 2176.2,1309.6 2163.7,1284.6 2162.3,1284.6 2149.8,1309.6"/>
<polygon points="2171.1,1296.8 2197.6,1296.8 2197.6,1295.7 2185.1,1270.7 2183.6,1270.7 2171.1,1295.7"/>
<polygon points="2192.5,1302.7 2219,1302.7 2219,1301.6 2206.4,1276.6 2205,1276.6 2192.5,1301.6"/>
<polygon points="2213.8,1308.8 2240.3,1308.8 2240.3,1307.7 2227.8,1282.7 2226.3,1282.7 2213.8,1307.7"/>
<polygon points="2235.2,1306.8 2261.7,1306.8 2261.7,1305.7 2249.1,1280.7 2247.7,1280.7 2235.2,1305.7"/>
<polygon points="2256.5,1302.7 2283,1302.7 2283,1301.6 2270.5,1276.6 2269,1276.6 2256.5,1301.6"/>
<polygon points="2277.8,1299.8 2304.3,1299.8 2304.3,1298.7 2291.8,1273.7 2290.4,1273.7 2277.8,1298.7"/>
<polygon points="2299.2,1303.9 2325.7,1303.9 2325.7,1302.8 2313.2,1277.8 2311.7,1277.8 2299.2,1302.8"/>
<polygon points="2320.6,1306.5 2347.1,1306.5 2347.1,1305.5 2334.5,1280.5 2333.1,1280.5 2320.6,1305.5"/>
<polygon points="2341.9,1294.8 2368.4,1294.8 2368.4,1293.7 2355.9,1268.7 2354.4,1268.7 2341.9,1293.7"/>
<polygon points="2363.2,1318.9 2389.8,1318.9 2389.8,1317.8 2377.2,1292.8 2375.8,1292.8 2363.2,1317.8"/>
<polygon points="2384.6,1305.8 2411.1,1305.8 2411.1,1304.7 2398.6,1279.7 2397.1,1279.7 2384.6,1304.7"/>
</g>
<g stroke="#000" stroke-width="3.4" fill="none">
<rect x="178.6" y="116.4" width="2324.9" height="1386"/>
<line x1="476.4" y1="1502.4" x2="476.4" y2="1517.5"/>
<line x1="689.9" y1="1502.4" x2="689.9" y2="1517.5"/>
<line x1="903.4" y1="1502.4" x2="903.4" y2="1517.5"/>
<line x1="1116.9" y1="1502.4" x2="1116.9" y2="1517.5"/>
<line x1="1330.4" y1="1502.4" x2="1330.4" y2="1517.5"/>
<line x1="1543.9" y1="1502.4" x2="1543.9" y2="1517.5"/>
<line x1="1757.4" y1="1502.4" x2="1757.4" y2="1517.5"/>
<line x1="1970.9" y1="1502.4" x2="1970.9" y2="1517.5"/>
<line x1="2184.3" y1="1502.4" x2="2184.3" y2="1517.5"/>
<line x1="2397.8" y1="1502.4" x2="2397.8" y2="1517.5"/>
<line x1="163.5" y1="1502.4" x2="178.6" y2="1502.4"/>
<line x1="163.5" y1="1238.4" x2="178.6" y2="1238.4"/>
<line x1="163.5" y1="974.4" x2="178.6" y2="974.4"/>
<line x1="163.5" y1="710.4" x2="178.6" y2="710.4"/>
<line x1="163.5" y1="446.4" x2="178.6" y2="446.4"/>
<line x1="163.5" y1="182.4" x2="178.6" y2="182.4"/>
<line x1="2503.5" y1="1439.5" x2="2518.6" y2="1439.5"/>
<line x1="2503.5" y1="1148.5" x2="2518.6" y2="1148.5"/>
<line x1="2503.5" y1="857.5" x2="2518.6" y2="857.5"/>
<line x1="2503.5" y1="566.5" x2="2518.6" y2="566.5"/>
<line x1="2503.5" y1="275.5" x2="2518.6" y2="275.5"/>
</g>
<text class="n" transform="translate(455.5,1561.2) scale(0.862,1)" x="12.1 36.2" y="0" font-size="43.3" text-anchor="middle" fill="#000">10</text>
<text class="n" transform="translate(669,1561.2) scale(0.862,1)" x="12.1 36.2" y="0" font-size="43.3" text-anchor="middle" fill="#000">20</text>
<text class="n" transform="translate(882.5,1561.2) scale(0.862,1)" x="12.1 36.2" y="0" font-size="43.3" text-anchor="middle" fill="#000">30</text>
<text class="n" transform="translate(1096,1561.2) scale(0.862,1)" x="12.1 36.2" y="0" font-size="43.3" text-anchor="middle" fill="#000">40</text>
<text class="n" transform="translate(1309.5,1561.2) scale(0.862,1)" x="12.1 36.2" y="0" font-size="43.3" text-anchor="middle" fill="#000">50</text>
<text class="n" transform="translate(1523,1561.2) scale(0.862,1)" x="12.1 36.2" y="0" font-size="43.3" text-anchor="middle" fill="#000">60</text>
<text class="n" transform="translate(1736.5,1561.2) scale(0.862,1)" x="12.1 36.2" y="0" font-size="43.3" text-anchor="middle" fill="#000">70</text>
<text class="n" transform="translate(1950,1561.2) scale(0.862,1)" x="12.1 36.2" y="0" font-size="43.3" text-anchor="middle" fill="#000">80</text>
<text class="n" transform="translate(2163.5,1561.2) scale(0.862,1)" x="12.1 36.2" y="0" font-size="43.3" text-anchor="middle" fill="#000">90</text>
<text class="n" transform="translate(2366.6,1561.2) scale(0.862,1)" x="12.1 36.2 60.4" y="0" font-size="43.3" text-anchor="middle" fill="#000">100</text>
<text class="n" transform="translate(86.2,1517.4) scale(0.862,1)" x="12.1 29.4 60.4" y="0" font-size="43.3" text-anchor="middle" fill="#1f77b4">0.0</text>
<text class="n" transform="translate(86.2,1253.4) scale(0.862,1)" x="12.1 29.4 60.4" y="0" font-size="43.3" text-anchor="middle" fill="#1f77b4">0.2</text>
<text class="n" transform="translate(86.2,989.4) scale(0.862,1)" x="12.1 29.4 60.4" y="0" font-size="43.3" text-anchor="middle" fill="#1f77b4">0.4</text>
<text class="n" transform="translate(86.2,725.4) scale(0.862,1)" x="12.1 29.4 60.4" y="0" font-size="43.3" text-anchor="middle" fill="#1f77b4">0.6</text>
<text class="n" transform="translate(86.2,461.4) scale(0.862,1)" x="12.1 29.4 60.4" y="0" font-size="43.3" text-anchor="middle" fill="#1f77b4">0.8</text>
<text class="n" transform="translate(86.2,197.4) scale(0.862,1)" x="12.1 29.4 60.4" y="0" font-size="43.3" text-anchor="middle" fill="#1f77b4">1.0</text>
<text class="n" transform="translate(2532.7,1453.9) scale(0.862,1)" x="12.1 29.4 60.4" y="0" font-size="43.3" text-anchor="middle" fill="#d62728">0.0</text>
<text class="n" transform="translate(2532.7,1162.9) scale(0.862,1)" x="12.1 29.4 60.4" y="0" font-size="43.3" text-anchor="middle" fill="#d62728">0.1</text>
<text class="n" transform="translate(2532.7,871.9) scale(0.862,1)" x="12.1 29.4 60.4" y="0" font-size="43.3" text-anchor="middle" fill="#d62728">0.2</text>
<text class="n" transform="translate(2532.7,580.9) scale(0.862,1)" x="12.1 29.4 60.4" y="0" font-size="43.3" text-anchor="middle" fill="#d62728">0.3</text>
<text class="n" transform="translate(2532.7,289.9) scale(0.862,1)" x="12.1 29.4 60.4" y="0" font-size="43.3" text-anchor="middle" fill="#d62728">0.4</text>
<text class="n" transform="translate(1341,1615.9) scale(0.94,1)" x="-53.2 -26.6 0 26.6 53.2" y="0" font-size="46.8" text-anchor="middle" fill="#000">Epoch</text>
<text class="n" transform="translate(63,812.6) rotate(-90) scale(0.94,1)" x="-93.1 -66.5 -39.9 -13.3 13.3 39.9 66.5 93.1" y="0" font-size="46.8" text-anchor="middle" fill="#000">Accuracy</text>
<text class="n" transform="translate(2645.8,814.5) rotate(-90) scale(0.94,1)" x="-39.9 -13.3 13.3 39.9" y="0" font-size="46.8" text-anchor="middle" fill="#000">Loss</text>
<line x1="607.9" y1="1767.2" x2="691.2" y2="1767.2" stroke="#1f77b4" stroke-width="8.33" stroke-linecap="square"/>
<circle cx="650.5" cy="1767.2" r="12.5" fill="#1f77b4"/>
<text class="c" transform="translate(725.2,1783) scale(1,0.97)" font-size="41.3" fill="#000">训练准确率</text>
<line x1="1016.1" y1="1767.2" x2="1099.4" y2="1767.2" stroke="#ff7f0e" stroke-width="8.33" stroke-dasharray="30.83 13.33"/>
<rect x="1046.7" y="1755.2" width="24" height="24" fill="#ff7f0e"/>
<text class="c" transform="translate(1133.4,1783) scale(1,0.97)" font-size="41.3" fill="#000">验证准确率</text>
<line x1="1424.1" y1="1767.2" x2="1507.4" y2="1767.2" stroke="#d62728" stroke-width="8.33" stroke-linecap="square"/>
<polygon points="1453.4,1754.7 1479.9,1754.7 1479.9,1755.8 1467.4,1780.8 1466,1780.8 1453.4,1755.8" fill="#d62728"/>
<text class="c" transform="translate(1541.4,1783) scale(1,0.97)" font-size="41.3" fill="#000">训练损失</text>
<line x1="1791.4" y1="1767.2" x2="1874.7" y2="1767.2" stroke="#2ca02c" stroke-width="8.33" stroke-dasharray="30.83 13.33"/>
<polygon points="1820.8,1779.7 1847.2,1779.7 1847.2,1778.6 1834.7,1753.6 1833.3,1753.6 1820.8,1778.6" fill="#2ca02c"/>
<text class="c" transform="translate(1908.7,1783) scale(1,0.97)" font-size="41.3" fill="#000">验证损失</text>
</svg></body></html>
